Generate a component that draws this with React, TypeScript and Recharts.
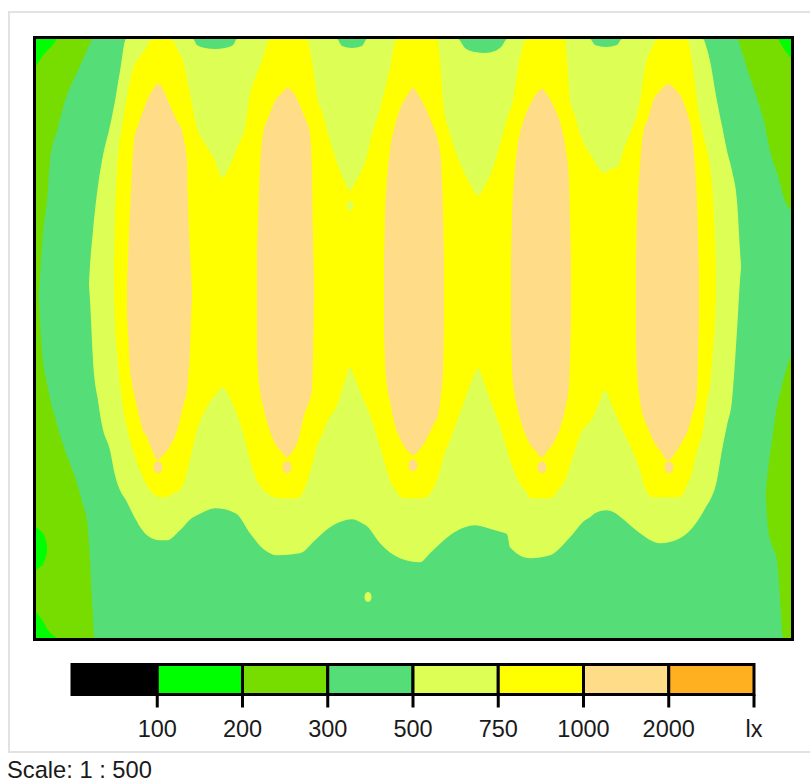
import React from 'react';
import { ComposedChart, Area, Scatter, XAxis, YAxis, BarChart, Bar } from 'recharts';

// isolux plan, room 30.2 m x 24 m
// each band row: [x (m), low y (m), high y (m)], y measured from the bottom wall
type Band = [number, number, number][];
type Pt = [number, number];

const ROOM_W = 30.2;
const ROOM_H = 24;

const C_100 = '#00FF00';
const C_200 = '#77DD00';
const C_300 = '#55DD77';
const C_500 = '#DDFF55';
const C_750 = '#FFFF00';
const C_1000 = '#FFDD88';

// 300 - 500 lx covers the whole floor underneath
const baseBand: Band = [[0, 0, ROOM_H], [ROOM_W, 0, ROOM_H]];

// 200 - 300 lx, wall strips
const darkLeftTop: Band = [
  [0, 13.52, 24], [0.12, 13.92, 24], [0.2, 15.12, 24], [0.28, 16.2, 24], [0.44, 17.52, 24],
  [0.56, 19.12, 24], [0.84, 20.32, 24], [1.16, 21.52, 24], [1.76, 22.92, 24], [2.24, 24, 24],
];
const darkLeftBottom: Band = [
  [0, 0, 14.32], [0.12, 0, 13.52], [0.16, 0, 12.72], [0.24, 0, 11.52], [0.44, 0, 10.2],
  [0.76, 0, 8.84], [1.16, 0, 7.52], [1.64, 0, 6.2], [1.88, 0, 5.32], [2.04, 0, 4.72],
  [2.16, 0, 3.12], [2.24, 0, 1.52], [2.32, 0, 0],
];
const darkRightTop: Band = [
  [28.08, 24, 24], [28.48, 22.72, 24], [28.88, 21.52, 24], [29.16, 20.52, 24],
  [29.36, 19.52, 24], [29.68, 18.52, 24], [29.96, 17.52, 24], [30.2, 17.12, 24],
];
const darkRightBottom: Band = [
  [29.2, 5.52, 5.92], [29.28, 4.4, 6.72], [29.44, 3.72, 7.92], [29.64, 3.12, 9.32],
  [29.76, 1.6, 9.8], [29.88, 0, 10.3], [30.0, 0, 10.72], [30.2, 0, 11.32],
];

// 100 - 200 lx, corners
const brightTopLeft: Band = [[0, 22.92, 24], [0.36, 23.44, 24], [0.64, 23.72, 24], [0.84, 24, 24]];
const brightLeftSpot: Band = [[0, 2.72, 4.44], [0.16, 2.84, 4.32], [0.32, 3.04, 4.12], [0.44, 3.44, 3.72]];
const brightBottomLeft: Band = [[0, 0, 1.04], [0.24, 0, 0.72], [0.48, 0, 0.32], [0.84, 0, 0]];
const brightTopRight: Band = [[29.68, 24, 24], [29.92, 23.6, 24], [30.2, 23.24, 24]];

// 500 - 750 lx
const band500: Band = [
  [2.12, 14.16, 14.24], [2.16, 13.52, 14.92], [2.28, 11.12, 16.32], [2.48, 9.52, 18.12],
  [2.64, 8.52, 19.12], [2.96, 7.52, 20.52], [3.16, 6.52, 21.52], [3.36, 5.92, 22.72],
  [3.6, 5.52, 24], [3.96, 4.8, 24], [4.44, 4.12, 24], [4.96, 3.92, 24], [5.24, 3.92, 24],
  [5.76, 4.32, 24], [6.28, 4.84, 24], [6.44, 4.92, 23.76], [6.76, 5.08, 23.64],
  [7.16, 5.2, 23.6], [7.56, 5.16, 23.64], [7.88, 5.04, 23.76], [8.04, 4.96, 24],
  [8.56, 4.2, 24], [9.16, 3.52, 24], [9.64, 3.32, 24], [10.56, 3.4, 24], [11.16, 3.92, 24],
  [11.76, 4.44, 24], [12.04, 4.6, 24], [12.24, 4.68, 23.72], [12.64, 4.76, 23.64],
  [13.04, 4.6, 23.72], [13.24, 4.48, 24], [13.76, 3.8, 24], [14.56, 3.2, 24],
  [15.36, 3.04, 24], [15.76, 3.4, 24], [16.56, 4.12, 24], [16.88, 4.32, 24],
  [17.16, 4.44, 23.64], [17.56, 4.52, 23.48], [17.96, 4.44, 23.44], [18.36, 4.32, 23.52],
  [18.64, 4.24, 23.72], [18.84, 4.16, 24], [18.96, 3.64, 24], [19.76, 3.2, 24],
  [20.56, 3.32, 24], [21.36, 4.04, 24], [21.96, 4.72, 24], [22.16, 4.84, 24],
  [22.36, 5.0, 23.76], [22.8, 5.12, 23.68], [23.24, 4.96, 23.76], [23.44, 4.8, 24],
  [24.16, 4.2, 24], [24.96, 3.8, 24], [25.76, 4.0, 24], [26.56, 4.84, 24],
  [26.68, 5.04, 24], [26.84, 5.32, 23.6], [26.96, 5.52, 23.12], [27.24, 6.32, 21.52],
  [27.44, 7.52, 20.52], [27.64, 8.52, 19.52], [27.84, 9.52, 18.72], [28.04, 12.32, 17.52],
  [28.16, 14.32, 15.52], [28.2, 14.8, 14.96],
];

// 750 - 1000 lx
const band750: Band = [
  [3.12, 13.92, 15.12], [3.16, 12.72, 16.72], [3.24, 11.52, 18.72], [3.44, 9.52, 20.44],
  [3.68, 8.24, 21.92], [3.88, 7.52, 22.8], [4.08, 6.92, 23.2], [4.28, 6.44, 23.44],
  [4.44, 6.12, 23.68], [4.64, 5.84, 24], [4.96, 5.64, 24], [5.24, 5.64, 24], [5.36, 5.72, 24],
  [5.48, 5.8, 23.92], [5.68, 5.88, 23.52], [5.88, 6.12, 23.12], [6.16, 7.12, 21.8],
  [6.44, 8.32, 20.44], [6.76, 9.12, 19.8], [7.16, 9.72, 19.12], [7.44, 10.04, 18.44],
  [7.84, 9.44, 19.12], [8.08, 8.84, 19.72], [8.36, 7.92, 20.44], [8.56, 7.12, 21.8],
  [8.8, 6.4, 22.52], [9.04, 6.0, 23.12], [9.36, 5.72, 24], [9.76, 5.6, 24], [10.44, 5.6, 24],
  [10.84, 6.24, 24], [11.04, 6.92, 23.12], [11.28, 7.8, 21.52], [11.44, 8.12, 21.12],
  [11.68, 8.72, 20.2], [12.04, 9.32, 19.04], [12.36, 10.32, 18.24], [12.56, 10.84, 17.92],
  [12.76, 10.4, 18.24], [13.08, 9.6, 18.84], [13.24, 9.24, 19.32], [13.44, 8.72, 20.2],
  [13.68, 7.92, 20.92], [13.84, 7.4, 21.52], [14.16, 6.32, 22.84], [14.44, 5.84, 24],
  [14.68, 5.6, 24], [15.48, 5.6, 24], [16.04, 6.32, 24], [16.16, 6.72, 23.12],
  [16.28, 7.2, 21.52], [16.56, 7.92, 20.2], [17.04, 9.24, 18.84], [17.36, 10.12, 18.2],
  [17.68, 10.8, 17.72], [17.96, 10.12, 18.12], [18.28, 9.24, 18.84], [18.68, 8.12, 20.2],
  [18.88, 7.4, 20.92], [19.08, 6.8, 21.52], [19.28, 6.32, 22.84], [19.64, 5.8, 24],
  [19.76, 5.6, 24], [20.56, 5.6, 24], [20.88, 5.92, 24], [21.16, 6.32, 24],
  [21.24, 6.52, 23.12], [21.36, 6.92, 21.52], [21.56, 7.52, 20.92], [21.76, 8.12, 20.2],
  [22.28, 8.84, 19.2], [22.48, 9.32, 18.84], [22.76, 9.92, 18.64], [23.04, 9.32, 18.8],
  [23.24, 8.84, 18.84], [23.56, 8.12, 19.72], [23.76, 7.72, 20.2], [24.16, 6.72, 21.52],
  [24.36, 6.0, 22.84], [24.68, 5.64, 23.72], [24.84, 5.64, 24], [25.76, 5.64, 24],
  [26.04, 6.12, 24], [26.24, 6.64, 23.12], [26.44, 7.52, 21.52], [26.68, 8.32, 20.2],
  [26.84, 9.52, 19.52], [26.96, 10.12, 18.84], [27.08, 11.52, 17.52], [27.16, 12.72, 15.92],
  [27.2, 13.92, 14.72],
];

// 1000 - 2000 lx, one patch under each luminaire row
const band1000: Band[] = [
  [
    [3.64, 12.92, 14.12], [3.68, 12.32, 15.12], [3.76, 10.72, 17.12], [3.84, 10.24, 18.72],
    [3.92, 9.8, 19.92], [4.08, 9.12, 20.52], [4.28, 8.32, 21.12], [4.44, 8.04, 21.52],
    [4.64, 7.52, 21.92], [4.88, 7.12, 22.2], [5.08, 7.32, 22.0], [5.28, 7.56, 21.52],
    [5.64, 8.32, 20.72], [5.84, 9.12, 20.32], [5.92, 9.44, 19.92], [6.04, 9.92, 19.12],
    [6.08, 10.32, 17.52], [6.16, 11.52, 15.52], [6.2, 12.72, 14.72], [6.24, 13.52, 13.92],
  ],
  [
    [8.84, 11.52, 15.52], [8.88, 10.72, 16.72], [8.96, 9.92, 18.84], [9.08, 9.32, 20.2],
    [9.28, 8.52, 20.8], [9.56, 7.8, 21.52], [9.84, 7.44, 21.84], [10.04, 7.24, 22.04],
    [10.24, 7.44, 21.92], [10.48, 7.92, 21.52], [10.72, 8.92, 20.92], [10.96, 9.6, 20.2],
    [11.04, 9.92, 18.84], [11.08, 11.24, 16.2], [11.12, 13.52, 14.32],
  ],
  [
    [13.92, 12.32, 15.12], [13.96, 11.12, 16.72], [14.04, 10.12, 18.32], [14.16, 9.52, 19.52],
    [14.36, 8.52, 20.52], [14.56, 8.0, 21.2], [14.84, 7.52, 21.72], [15.08, 7.32, 22.04],
    [15.32, 7.52, 21.72], [15.6, 7.92, 21.2], [15.88, 8.52, 20.52], [16.08, 8.92, 19.92],
    [16.2, 9.72, 19.12], [16.28, 10.72, 17.12], [16.32, 12.72, 15.12],
  ],
  [
    [19.0, 12.32, 15.12], [19.04, 10.92, 16.72], [19.12, 9.92, 18.32], [19.24, 9.32, 19.52],
    [19.44, 8.52, 20.52], [19.68, 7.92, 21.2], [19.96, 7.52, 21.72], [20.24, 7.24, 22.0],
    [20.48, 7.52, 21.72], [20.76, 7.92, 21.2], [21.0, 8.52, 20.52], [21.2, 9.32, 19.52],
    [21.32, 10.12, 18.32], [21.36, 11.12, 16.72], [21.4, 12.72, 15.12],
  ],
  [
    [24.0, 11.92, 15.12], [24.04, 10.72, 16.72], [24.16, 9.52, 18.92], [24.28, 8.92, 20.2],
    [24.48, 8.4, 20.8], [24.68, 7.92, 21.52], [24.96, 7.52, 21.92], [25.28, 7.12, 22.2],
    [25.56, 7.4, 22.0], [25.88, 7.92, 21.52], [26.08, 8.32, 20.92], [26.24, 8.92, 20.2],
    [26.36, 9.32, 18.92], [26.44, 9.92, 17.52], [26.48, 11.12, 16.2], [26.52, 12.72, 14.72],
  ],
];

// small isolated islands
const drops1000: Pt[] = [[4.88, 6.84], [10.04, 6.84], [15.08, 6.92], [20.24, 6.84], [25.32, 6.84]];
const spots500: Pt[] = [[12.56, 17.32], [13.28, 1.64]];

// colour scale
const legendColors = ['#000000', C_100, C_200, C_300, C_500, C_750, C_1000, '#FFB020'];
const legendTicks = ['100', '200', '300', '500', '750', '1000', '2000', 'lx'];

const FONT = "'Liberation Sans', Arial, sans-serif";

const rows = (band: Band) => band.map(([x, lo, hi]) => ({ x, r: [lo, hi] }));
const pts = (list: Pt[]) => list.map(([x, y]) => ({ x, y }));

const layer = (id: string, band: Band, color: string) => (
  <Area
    key={id}
    data={rows(band)}
    dataKey="r"
    type="monotone"
    fill={color}
    fillOpacity={1}
    stroke="none"
    dot={false}
    activeDot={false}
    isAnimationActive={false}
  />
);

export default function App() {
  const legendRow: any = { row: 'lx' };
  legendColors.forEach((_, i) => { legendRow[`c${i}`] = 1; });

  return (
    <div style={{ position: 'absolute', left: 0, top: 0, width: 810, height: 783, overflow: 'hidden', background: '#fff' }}>
      <div style={{ position: 'absolute', left: 8, top: 11, width: 830, height: 742, border: '2px solid #e2e2e2', boxSizing: 'border-box' }} />

      <div style={{ position: 'absolute', left: 0, top: 0 }}>
        <ComposedChart width={810} height={660} margin={{ top: 39, left: 36, right: 19, bottom: 22 }}>
          <XAxis type="number" dataKey="x" domain={[0, ROOM_W]} hide allowDataOverflow />
          <YAxis type="number" domain={[0, ROOM_H]} hide allowDataOverflow />
          {layer('base', baseBand, C_300)}
          {layer('dlt', darkLeftTop, C_200)}
          {layer('dlb', darkLeftBottom, C_200)}
          {layer('drt', darkRightTop, C_200)}
          {layer('drb', darkRightBottom, C_200)}
          {layer('btl', brightTopLeft, C_100)}
          {layer('bls', brightLeftSpot, C_100)}
          {layer('bbl', brightBottomLeft, C_100)}
          {layer('btr', brightTopRight, C_100)}
          {layer('b500', band500, C_500)}
          {layer('b750', band750, C_750)}
          {band1000.map((b, i) => layer(`b1000-${i}`, b, C_1000))}
          <Scatter
            data={pts(drops1000)}
            dataKey="y"
            isAnimationActive={false}
            shape={(p: any) => <ellipse cx={p.cx} cy={p.cy} rx={4.5} ry={6} fill={C_1000} />}
          />
          <Scatter
            data={pts(spots500)}
            dataKey="y"
            isAnimationActive={false}
            shape={(p: any) => <ellipse cx={p.cx} cy={p.cy} rx={3.5} ry={5} fill={C_500} />}
          />
        </ComposedChart>
      </div>

      <div style={{ position: 'absolute', left: 33, top: 36, width: 761, height: 605, border: '3px solid #000', boxSizing: 'border-box', pointerEvents: 'none' }} />

      <div style={{ position: 'absolute', left: 0, top: 640 }}>
        <BarChart
          width={810}
          height={110}
          layout="vertical"
          data={[legendRow]}
          barCategoryGap={0}
          margin={{ top: 24.5, left: 72, right: 56, bottom: 15.5 }}
        >
          <XAxis
            type="number"
            domain={[0, 8]}
            ticks={[1, 2, 3, 4, 5, 6, 7, 8]}
            tickFormatter={(v: number) => legendTicks[v - 1]}
            axisLine={false}
            tickLine={{ stroke: '#000', strokeWidth: 3 }}
            tickSize={13}
            tickMargin={13}
            height={40}
            tick={{ fontSize: 23.5, fill: '#1a1a1a', fontFamily: FONT }}
          />
          <YAxis type="category" dataKey="row" hide />
          {legendColors.map((c, i) => (
            <Bar key={c} dataKey={`c${i}`} stackId="scale" fill={c} stroke="#000" strokeWidth={3} isAnimationActive={false} />
          ))}
        </BarChart>
      </div>

      <svg width={810} height={783} style={{ position: 'absolute', left: 0, top: 0, pointerEvents: 'none' }}>
        <text x={7} y={778} fontSize={23.7} fontFamily={FONT} fill="#1a1a1a">Scale: 1 : 500</text>
      </svg>
    </div>
  );
}
